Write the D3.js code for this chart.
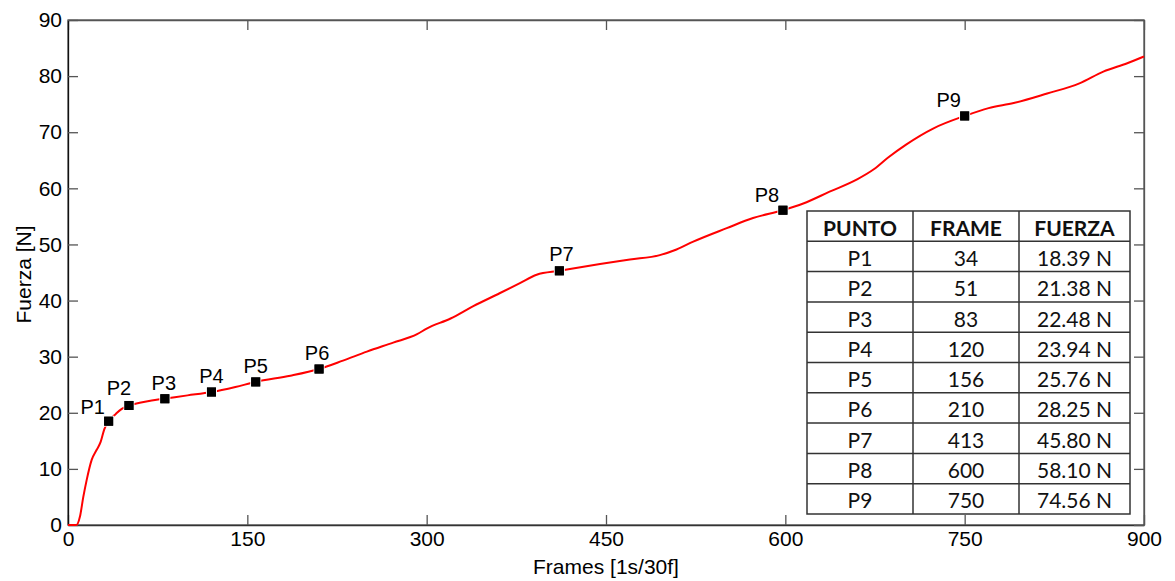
<!DOCTYPE html>
<html>
<head>
<meta charset="utf-8">
<script src="https://cdn.jsdelivr.net/npm/d3@7"></script>
<style>
  html, body { margin: 0; padding: 0; background: #fff; }
  svg { display: block; }
</style>
</head>
<body>
<svg id="chart" width="1175" height="581"></svg>
<script>
// ---- Data ----
const curveFrames = [0, 7, 10, 12.8, 15.6, 19.8, 24, 27.3, 30.4, 34, 40, 45, 51, 60, 70, 80, 100, 120, 140, 157, 186, 210, 230, 250, 272, 292, 300, 320, 339, 361, 378, 392, 411, 445, 470, 495, 509, 523, 551, 573, 598, 615, 637, 660, 674, 686, 701, 724, 750, 770, 791, 819, 846, 866, 886, 900];
const curveForce  = [0, 0, 1.5, 5.0, 8.0, 11.6, 13.4, 14.8, 17.1, 18.5, 19.8, 20.7, 21.3, 21.8, 22.2, 22.5, 23.1, 23.7, 24.6, 25.5, 26.6, 27.8, 29.3, 30.9, 32.5, 34.0, 35.0, 36.8, 39.0, 41.3, 43.1, 44.6, 45.3, 46.5, 47.3, 48.1, 49.1, 50.5, 52.9, 54.7, 56.1, 57.3, 59.4, 61.6, 63.4, 65.5, 67.8, 70.7, 72.9, 74.3, 75.2, 76.9, 78.7, 80.8, 82.3, 83.5];

const pointNames  = ["P1", "P2", "P3", "P4", "P5", "P6", "P7", "P8", "P9"];
const pointFrames = [34, 51, 81, 120, 157, 210, 411, 598, 750];
const pointForce  = [18.5, 21.3, 22.5, 23.7, 25.5, 27.8, 45.3, 56.1, 72.9];

const tableHeader = ["PUNTO", "FRAME", "FUERZA"];
const tableFrames = ["34", "51", "83", "120", "156", "210", "413", "600", "750"];
const tableForce  = ["18.39 N", "21.38 N", "22.48 N", "23.94 N", "25.76 N", "28.25 N", "45.80 N", "58.10 N", "74.56 N"];

const xTicks = [0, 150, 300, 450, 600, 750, 900];
const yTicks = [0, 10, 20, 30, 40, 50, 60, 70, 80, 90];

// ---- Layout ----
const W = 1175, H = 581;
const m = { left: 68, right: 31, top: 20, bottom: 56 };
const iw = W - m.left - m.right, ih = H - m.top - m.bottom;
const labelOffsets = [[-16, -7], [-10, -10], [-1, -9], [0, -9], [0, -9], [-2, -9], [2, -10], [-16, -8], [-16, -9]];

const svg = d3.select("#chart");
const g = svg.append("g").attr("transform", `translate(${m.left},${m.top})`);

const x = d3.scaleLinear().domain([0, 900]).range([0, iw]);
const y = d3.scaleLinear().domain([0, 90]).range([ih, 0]);

const font = "'Liberation Sans', Arial, sans-serif";

// box
g.append("rect").attr("x", 0).attr("y", 0).attr("width", iw).attr("height", ih)
  .attr("fill", "none").attr("stroke", "#555").attr("stroke-width", 1.3);

// axes with inward ticks
const xAxis = g.append("g").attr("transform", `translate(0,${ih})`)
  .call(d3.axisBottom(x).tickValues(xTicks).tickSizeInner(-10).tickSizeOuter(0).tickPadding(6));
const xTop = g.append("g")
  .call(d3.axisTop(x).tickValues(xTicks).tickSizeInner(-10).tickSizeOuter(0).tickFormat(""));
const yAxis = g.append("g")
  .call(d3.axisLeft(y).tickValues(yTicks).tickSizeInner(-10).tickSizeOuter(0).tickPadding(6));
const yRight = g.append("g").attr("transform", `translate(${iw},0)`)
  .call(d3.axisRight(y).tickValues(yTicks).tickSizeInner(-10).tickSizeOuter(0).tickFormat(""));

[xAxis, xTop, yAxis, yRight].forEach(a => {
  a.selectAll(".domain").attr("stroke", "#555").attr("stroke-width", 1.3);
  a.selectAll(".tick line").attr("stroke", "#555").attr("stroke-width", 1.3);
  a.selectAll(".tick text").attr("fill", "#000").style("font-family", font).style("font-size", "21px");
});
yAxis.select(".domain").attr("stroke", "#111");
xAxis.select(".domain").attr("stroke", "#333");

// axis titles
svg.append("text").attr("x", m.left + iw / 2).attr("y", 574)
  .attr("text-anchor", "middle").style("font-family", font).style("font-size", "21px").attr("fill", "#000")
  .text("Frames [1s/30f]");
svg.append("text").attr("transform", `translate(31,${m.top + ih / 2 + 2}) rotate(-90)`)
  .attr("text-anchor", "middle").style("font-family", font).style("font-size", "21px").attr("fill", "#000")
  .text("Fuerza [N]");

// curve
const curveData = curveFrames.map((f, i) => [f, curveForce[i]]);
g.append("path").datum(curveData)
  .attr("fill", "none").attr("stroke", "#ff0000").attr("stroke-width", 2)
  .attr("stroke-linejoin", "round")
  .attr("d", d3.line().x(d => x(d[0])).y(d => y(d[1])).curve(d3.curveMonotoneX));

// markers
const pts = pointNames.map((n, i) => ({ n, f: pointFrames[i], v: pointForce[i], o: labelOffsets[i] }));
const ms = 9;
g.selectAll("rect.mk").data(pts).join("rect").attr("class", "mk")
  .attr("x", d => x(d.f) - ms / 2).attr("y", d => y(d.v) - ms / 2)
  .attr("width", ms).attr("height", ms)
  .attr("fill", "#000").attr("stroke", "#fff").attr("stroke-width", 2).attr("paint-order", "stroke");
g.selectAll("rect.mk2").data(pts).join("rect").attr("class", "mk2")
  .attr("x", d => x(d.f) - ms / 2).attr("y", d => y(d.v) - ms / 2)
  .attr("width", ms).attr("height", ms).attr("fill", "#000");
g.selectAll("text.lbl").data(pts).join("text").attr("class", "lbl")
  .attr("x", d => x(d.f) + d.o[0]).attr("y", d => y(d.v) + d.o[1])
  .attr("text-anchor", "middle").style("font-family", font).style("font-size", "20px").attr("fill", "#000")
  .text(d => d.n);

// table
const tX = 807, tY = 211, colW = [106, 106, 111], rowH = 30.3;
const rows = [tableHeader].concat(pointNames.map((n, i) => [n, tableFrames[i], tableForce[i]]));
const tw = d3.sum(colW), th = rowH * rows.length;
const tg = svg.append("g");
tg.append("rect").attr("x", tX).attr("y", tY).attr("width", tw).attr("height", th)
  .attr("fill", "#fff").attr("stroke", "#333").attr("stroke-width", 1.5);
const colX = [tX, tX + colW[0], tX + colW[0] + colW[1], tX + tw];
colX.slice(1, 3).forEach(cx => tg.append("line").attr("x1", cx).attr("x2", cx).attr("y1", tY).attr("y2", tY + th)
  .attr("stroke", "#333").attr("stroke-width", 1.5));
d3.range(1, rows.length).forEach(r => tg.append("line").attr("x1", tX).attr("x2", tX + tw)
  .attr("y1", tY + r * rowH).attr("y2", tY + r * rowH).attr("stroke", "#333").attr("stroke-width", 1.5));
rows.forEach((row, r) => row.forEach((cell, c) => {
  tg.append("text").attr("x", (colX[c] + colX[c + 1]) / 2).attr("y", tY + r * rowH + rowH / 2 + 1)
    .attr("text-anchor", "middle").attr("dominant-baseline", "central")
    .style("font-family", "Lato, 'Open Sans', sans-serif").style("font-size", "21px")
    .style("font-weight", r === 0 ? "bold" : "normal").attr("fill", "#111").text(cell);
}));
</script>
</body>
</html>
